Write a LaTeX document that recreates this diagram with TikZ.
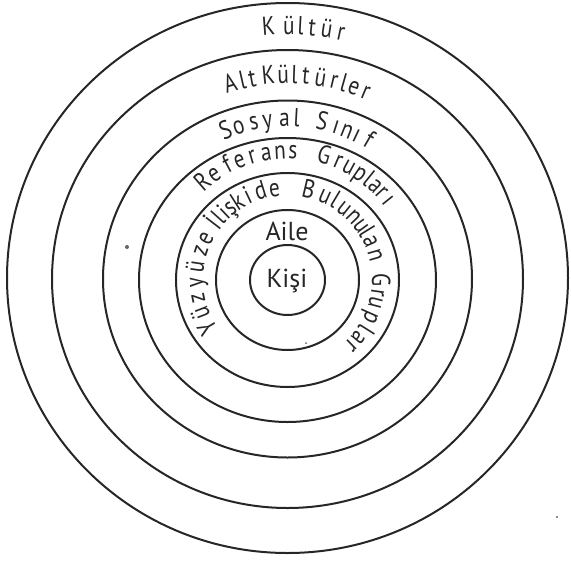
\documentclass[tikz,border=0pt]{standalone}
\usepackage{fontspec}
\setmainfont{PT Sans}
\usetikzlibrary{calc}
\begin{document}
\begin{tikzpicture}[x=1pt,y=1pt,
  ring/.style={line width=2pt, draw=black!85},
  ch/.style={font=\fontsize{26}{26}\selectfont, inner sep=0pt, anchor=mid, text=black!85, xscale=0.82},
  word/.style={font=\fontsize{26}{26}\selectfont, inner sep=0pt, text=black!85},
  speck/.style={fill=black!60, draw=none}
]
\useasboundingbox (0,0) rectangle (571,-563);
\coordinate (O) at (287.5,-280);
\coordinate (O2) at (287.5,-279);
\coordinate (O3) at (287.5,-278);
% rings
\draw[ring] (O) ellipse [x radius=37.5, y radius=35];
\draw[ring] (O) ellipse [x radius=71.5, y radius=70];
\draw[ring] (O) ellipse [x radius=111.5, y radius=107];
\draw[ring] (O) ellipse [x radius=148.5, y radius=142];
\draw[ring] (O2) ellipse [x radius=184.5, y radius=178.5];
\draw[ring] (O2) ellipse [x radius=235.5, y radius=229];
\draw[ring] (O3) ellipse [x radius=280.5, y radius=275];
% centre labels
\node[word] (kisi) at (287,-281) {Kişi};
\node[word] (aile) at (287,-231) {Aile};
% Kültür
\foreach \a/\c [count=\i] in {94.3/K, 89.7/ü, 87.0/l, 84.4/t, 81.1/ü, 77.8/r}
  \node[rotate=\a-90, ch] (kul\i) at ($(O)+(\a:248)$) {\c};
% AltKültürler
\foreach \a/\c [count=\i] in {106.2/A, 102.7/l, 99.9/t, 95.4/K, 91.2/ü, 88.0/l, 84.8/t, 80.7/ü, 76.8/r, 74.0/l, 71.0/e, 67.4/r}
  \node[rotate=\a-90, ch] (alt\i) at ($(O)+(\a:199)$) {\c};
% Sosyal Sınıf
\foreach \a/\c [count=\i] in {112.5/S, 107.7/o, 102.1/s, 97.2/y, 91.1/a, 86.7/l, 77.6/S, 72.4/ı, 68.3/n, 64.6/ı, 59.8/f}
  \node[rotate=\a-90, ch] (sos\i) at ($(O)+(\a:156)$) {\c};
% Referans Grupları
\foreach \a/\c [count=\i] in {130.7/R, 124.7/e, 117.6/f, 111.9/e, 106.0/r, 99.5/a, 93.3/n, 87.6/s, 73.6/G, 66.7/r, 61.4/u, 55.7/p, 51.2/l, 46.9/a, 42.8/r, 38.5/ı}
  \node[rotate=\a-90, ch] (ref\i) at ($(O)+(\a:124)$) {\c};
% Yüzyüze İlişkide Bulunulan Gruplar
\foreach \a/\c [count=\i] in {210.8/Y, 200.9/ü, 191.5/z, 181.4/y, 171.7/ü, 161.6/z, 153.1/e,
  142.5/İ, 138.0/l, 133.5/i, 128.5/ş, 122.5/k, 115.4/i, 107.0/d, 98.2/e,
  76.8/B, 65.8/u, 59.0/l, 51.6/u, 43.6/n, 36.3/u, 31.6/l, 24.7/a, 16.0/n,
  0.0/G, -8.1/r, -14.6/u, -24.0/p, -32.3/l, -39.2/a, -45.9/r}
  \node[rotate=\a-90, ch] (yuz\i) at ($(O)+(\a:87)$) {\c};
% specks
\fill[speck] (127,-247) circle (2);
\fill[speck] (557,-517) circle (1.2);
\fill[speck] (306,-343) circle (1);
\end{tikzpicture}
\end{document}
